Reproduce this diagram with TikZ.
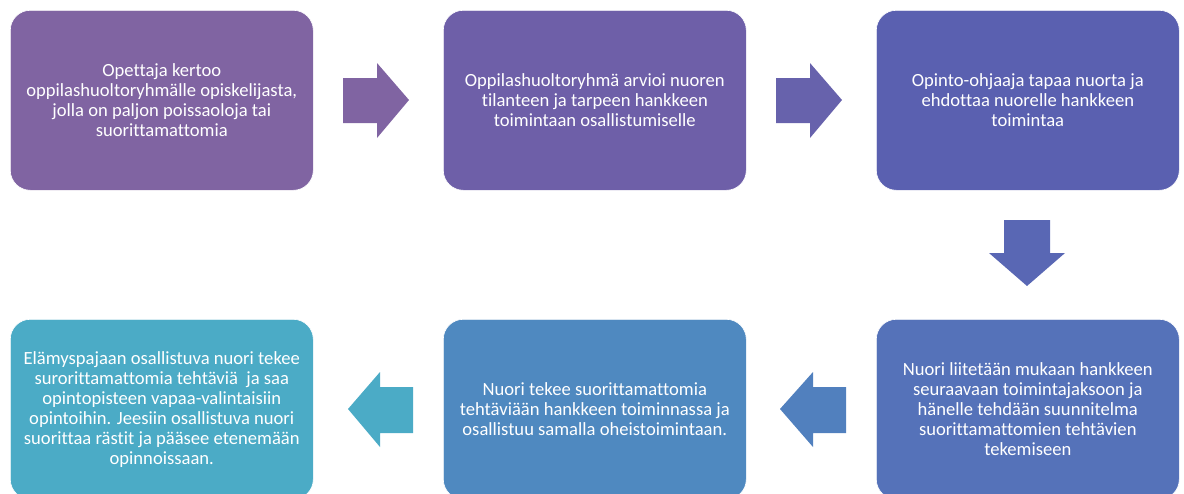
\documentclass[tikz,border=0pt]{standalone}
\usepackage{fontspec}
\setmainfont[Ligatures=NoCommon]{Carlito}
\definecolor{cA}{HTML}{8064A2}
\definecolor{cB}{HTML}{6E5FA8}
\definecolor{cC}{HTML}{5A60B0}
\definecolor{cD}{HTML}{5572B9}
\definecolor{cE}{HTML}{4F89C0}
\definecolor{cF}{HTML}{4BABC6}
\definecolor{aB}{HTML}{6762AC}
\definecolor{aC}{HTML}{5967B4}
\definecolor{aD}{HTML}{5180BE}
\tikzset{
  stepbox/.style={draw=white, line width=0.6pt, rounded corners=20pt, minimum width=303pt, minimum height=180pt,
    inner sep=0pt, align=center, text=white, font=\fontsize{18.6}{20}\selectfont, anchor=north west},
  blockarrow/.style={draw=none}
}
\begin{document}
\begin{tikzpicture}[x=1pt,y=-1pt]
\useasboundingbox (0,0) rectangle (1184,493);
\begin{scope}
\clip (0,0) rectangle (1184,493);
\node[stepbox, fill=cA] (b1) at (10,10) {Opettaja kertoo\\oppilashuoltoryhmälle opiskelijasta,\\jolla on paljon poissaoloja tai\\suorittamattomia};
\node[stepbox, fill=cB] (b2) at (443,10) {Oppilashuoltoryhmä arvioi nuoren\\tilanteen ja tarpeen hankkeen\\toimintaan osallistumiselle};
\node[stepbox, fill=cC] (b3) at (876,10) {Opinto-ohjaaja tapaa nuorta ja\\ehdottaa nuorelle hankkeen\\toimintaa};
\node[stepbox, fill=cD] (b6) at (876,319) {Nuori liitetään mukaan hankkeen\\seuraavaan toimintajaksoon ja\\hänelle tehdään suunnitelma\\suorittamattomien tehtävien\\tekemiseen};
\node[stepbox, fill=cE] (b5) at (443,319) {Nuori tekee suorittamattomia\\tehtäviään hankkeen toiminnassa ja\\osallistuu samalla oheistoimintaan.};
\node[stepbox, fill=cF] (b4) at (10,319) {Elämyspajaan osallistuva nuori tekee\\surorittamattomia tehtäviä\ \ ja saa\\opintopisteen vapaa-valintaisiin\\opintoihin. Jeesiin osallistuva nuori\\suorittaa rästit ja pääsee etenemään\\opinnoissaan.};
\end{scope}
% right arrows
\fill[cA] (343,78) -- (377,78) -- (377,63) -- (409,100) -- (377,138) -- (377,123) -- (343,123) -- cycle;
\fill[aB] (776,78) -- (810,78) -- (810,63) -- (842,100) -- (810,138) -- (810,123) -- (776,123) -- cycle;
% down arrow
\fill[aC] (1004,220) -- (1050,220) -- (1050,253) -- (1065,253) -- (1027,286) -- (989,253) -- (1004,253) -- cycle;
% left arrows
\fill[aD] (846,387) -- (813,387) -- (813,372) -- (780,409) -- (813,447) -- (813,433) -- (846,433) -- cycle;
\fill[cF] (413,387) -- (380,387) -- (380,372) -- (348,409) -- (380,447) -- (380,433) -- (413,433) -- cycle;
\end{tikzpicture}
\end{document}
